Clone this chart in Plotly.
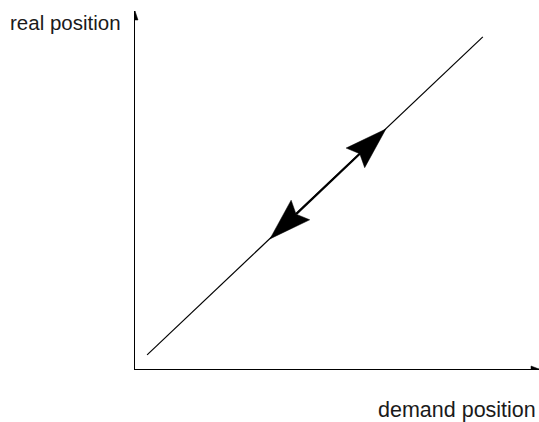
import math
import plotly.graph_objects as go

# ---- data (arbitrary units) ----
demand_position = [0.30, 8.61]   # line ends (x)
real_position = [0.35, 8.22]     # line ends (y)
arrow_demand = [6.21, 3.34]      # arrow tips (x): up-right, down-left
arrow_real = [5.94, 3.22]        # arrow tips (y)
x_label = "demand position"
y_label = "real position"

XMAX, YMAX = 10.0, 8.86
W_PX, H_PX = 404.0, 358.0
SX, SY = W_PX / XMAX, H_PX / YMAX

def to_px(x, y):
    return x * SX, -y * SY

def to_data(px, py):
    return px / SX, -py / SY

def head(tip_x, tip_y, ux, uy, L, hw, notch):
    """arrowhead polygon in data coords; (ux,uy) unit direction in px space"""
    tx, ty = to_px(tip_x, tip_y)
    px, py = -uy, ux
    bx, by = tx - ux * L, ty - uy * L
    nx, ny = tx - ux * (L - notch), ty - uy * (L - notch)
    pts = [(tx, ty), (bx + px * hw, by + py * hw), (nx, ny),
           (bx - px * hw, by - py * hw), (tx, ty)]
    d = [to_data(a, b) for a, b in pts]
    return [p[0] for p in d], [p[1] for p in d], to_data(nx, ny)

fig = go.Figure()

# main line
fig.add_trace(go.Scatter(x=demand_position, y=real_position, mode="lines",
                         line=dict(color="black", width=1.2),
                         hoverinfo="skip", showlegend=False))

# direction of the line in px space
x0, y0 = to_px(demand_position[0], real_position[0])
x1, y1 = to_px(demand_position[1], real_position[1])
ln = math.hypot(x1 - x0, y1 - y0)
ux, uy = (x1 - x0) / ln, (y1 - y0) / ln

hx1, hy1, n1 = head(arrow_demand[0], arrow_real[0], ux, uy, 42, 13.5, 6)
hx2, hy2, n2 = head(arrow_demand[1], arrow_real[1], -ux, -uy, 42, 13.5, 6)

# thick segment between arrowheads
fig.add_trace(go.Scatter(x=[n1[0], n2[0]], y=[n1[1], n2[1]], mode="lines",
                         line=dict(color="black", width=2.2),
                         hoverinfo="skip", showlegend=False))
for hx, hy in [(hx1, hy1), (hx2, hy2)]:
    fig.add_trace(go.Scatter(x=hx, y=hy, mode="lines", fill="toself",
                             fillcolor="black", line=dict(color="black", width=0.5),
                             hoverinfo="skip", showlegend=False))

# axis arrowheads
ax_x, ax_y, _ = head(XMAX, 0, 1, 0, 8, 3, 0)
ay_x, ay_y, _ = head(0, YMAX, 0, -1, 9, 3, 0)
for hx, hy in [(ax_x, ax_y), (ay_x, ay_y)]:
    fig.add_trace(go.Scatter(x=hx, y=hy, mode="lines", fill="toself",
                             fillcolor="black", line=dict(color="black", width=0.5),
                             hoverinfo="skip", showlegend=False))

fam = "Liberation Sans, Arial, sans-serif"
fig.add_annotation(text=y_label, xref="paper", yref="paper",
                   x=(8 - 135) / W_PX, y=(369 - 22) / H_PX,
                   xanchor="left", yanchor="middle", showarrow=False,
                   font=dict(family=fam, size=20.5, color="#1a1a1a"))
fig.add_annotation(text=x_label, xref="paper", yref="paper",
                   x=(538 - 135) / W_PX, y=(369 - 410) / H_PX,
                   xanchor="right", yanchor="middle", showarrow=False,
                   font=dict(family=fam, size=21.5, color="#1a1a1a"))

fig.update_layout(
    width=539, height=422,
    margin=dict(l=135, r=0, t=11, b=53),
    paper_bgcolor="white", plot_bgcolor="white",
    xaxis=dict(range=[0, XMAX], showgrid=False, zeroline=False, showticklabels=False,
               ticks="", showline=True, linecolor="black", linewidth=1.2, fixedrange=True),
    yaxis=dict(range=[0, YMAX], showgrid=False, zeroline=False, showticklabels=False,
               ticks="", showline=True, linecolor="black", linewidth=1.2, fixedrange=True),
)

fig.write_html("out.html", config={"displayModeBar": False},
               post_script="document.body.style.margin='0';document.body.style.overflow='hidden';")
